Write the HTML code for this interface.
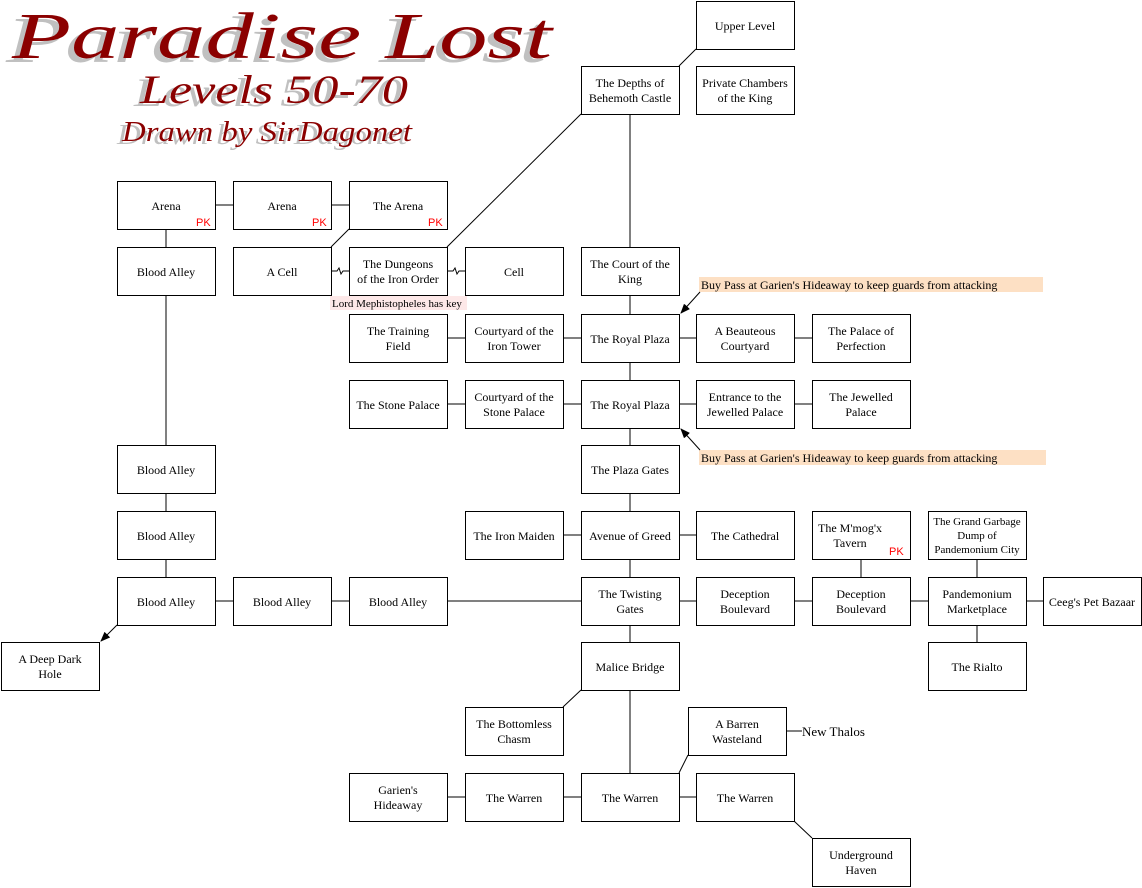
<!DOCTYPE html>
<html><head><meta charset="utf-8"><style>
html,body{margin:0;padding:0;background:#fff;}
svg{display:block;}
text{font-family:"Liberation Serif",serif;font-size:12px;fill:#000;}
.t{font-style:italic;fill:#8b0000;}
.s{font-style:italic;fill:#c0c0c0;}
.pk{fill:#ff0000;font-size:11px;font-family:"Liberation Sans",sans-serif;}
</style></head><body>
<svg width="1142" height="888" viewBox="0 0 1142 888" xmlns="http://www.w3.org/2000/svg">
<defs><marker id="ah" markerWidth="10" markerHeight="8" refX="9" refY="4" orient="auto"><path d="M0,0 L10,4 L0,8 z" fill="#000"/></marker></defs>
<!-- title -->
<text class="s" x="6" y="62" style="font-size:66px" textLength="540" lengthAdjust="spacingAndGlyphs">Paradise Lost</text>
<text class="t" x="12" y="58" style="font-size:66px" textLength="540" lengthAdjust="spacingAndGlyphs">Paradise Lost</text>
<text class="s" x="134" y="106" style="font-size:40px" textLength="268" lengthAdjust="spacingAndGlyphs">Levels 50-70</text>
<text class="t" x="140" y="103" style="font-size:40px" textLength="268" lengthAdjust="spacingAndGlyphs">Levels 50-70</text>
<text class="s" x="117" y="144" style="font-size:28px" textLength="290" lengthAdjust="spacingAndGlyphs">Drawn by SirDagonet</text>
<text class="t" x="122" y="141" style="font-size:28px" textLength="290" lengthAdjust="spacingAndGlyphs">Drawn by SirDagonet</text>
<!-- annotation backgrounds -->
<rect x="699" y="277" width="344" height="15" fill="#fde0c4"/>
<rect x="699" y="450" width="347" height="15" fill="#fde0c4"/>
<rect x="330" y="296" width="137" height="14" fill="#fde8e8"/>
<text x="701" y="289">Buy Pass at Garien's Hideaway to keep guards from attacking</text>
<text x="701" y="462">Buy Pass at Garien's Hideaway to keep guards from attacking</text>
<text x="332" y="307" style="font-size:11px">Lord Mephistopheles has key</text>
<text x="802" y="736" style="font-size:13px">New Thalos</text>
<!-- lines -->
<g stroke="#000" stroke-width="1" fill="none">
<line x1="696" y1="49" x2="679" y2="66"/>
<line x1="630" y1="114" x2="630" y2="247"/>
<line x1="581" y1="114" x2="447" y2="247"/>
<line x1="215" y1="205" x2="233" y2="205"/>
<line x1="331" y1="205" x2="349" y2="205"/>
<line x1="349" y1="229" x2="331" y2="247"/>
<line x1="166" y1="229" x2="166" y2="247"/>
<line x1="166" y1="295" x2="166" y2="445"/>
<line x1="166" y1="493" x2="166" y2="511"/>
<line x1="166" y1="559" x2="166" y2="577"/>
<path d="M331,271 H337 L339,268 L341,274 L343,271 H349"/>
<path d="M447,271 H453 L455,268 L457,274 L459,271 H465"/>
<line x1="630" y1="295" x2="630" y2="314"/>
<line x1="447" y1="338" x2="465" y2="338"/><line x1="563" y1="338" x2="581" y2="338"/><line x1="679" y1="338" x2="696" y2="338"/><line x1="794" y1="338" x2="812" y2="338"/>
<line x1="630" y1="362" x2="630" y2="380"/>
<line x1="447" y1="404" x2="465" y2="404"/><line x1="563" y1="404" x2="581" y2="404"/><line x1="679" y1="404" x2="696" y2="404"/><line x1="794" y1="404" x2="812" y2="404"/>
<line x1="630" y1="428" x2="630" y2="445"/>
<line x1="630" y1="493" x2="630" y2="511"/>
<line x1="630" y1="559" x2="630" y2="577"/>
<line x1="563" y1="535" x2="581" y2="535"/><line x1="679" y1="535" x2="696" y2="535"/>
<line x1="861" y1="559" x2="861" y2="577"/>
<line x1="977" y1="559" x2="977" y2="577"/>
<line x1="215" y1="601" x2="233" y2="601"/><line x1="331" y1="601" x2="349" y2="601"/><line x1="447" y1="601" x2="581" y2="601"/><line x1="679" y1="601" x2="696" y2="601"/><line x1="794" y1="601" x2="812" y2="601"/><line x1="910" y1="601" x2="928" y2="601"/><line x1="1026" y1="601" x2="1043" y2="601"/>
<line x1="977" y1="625" x2="977" y2="642"/>
<line x1="630" y1="625" x2="630" y2="642"/>
<line x1="630" y1="690" x2="630" y2="773"/>
<line x1="581" y1="690" x2="563" y2="707"/>
<line x1="688" y1="755" x2="679" y2="773"/>
<line x1="786" y1="731" x2="802" y2="731"/>
<line x1="447" y1="797" x2="465" y2="797"/><line x1="563" y1="797" x2="581" y2="797"/><line x1="679" y1="797" x2="696" y2="797"/>
<line x1="794" y1="821" x2="812" y2="838"/>
<line x1="117" y1="625" x2="101" y2="641" marker-end="url(#ah)"/>
<line x1="700" y1="292" x2="681" y2="313" marker-end="url(#ah)"/>
<line x1="700" y1="450" x2="681" y2="429" marker-end="url(#ah)"/>
</g>
<!-- boxes -->
<g fill="#fff" stroke="#000">
<rect x="696.5" y="1.5" width="98" height="48"/>
<rect x="581.5" y="66.5" width="98" height="48"/>
<rect x="696.5" y="66.5" width="98" height="48"/>
<rect x="117.5" y="181.5" width="98" height="48"/><rect x="233.5" y="181.5" width="98" height="48"/><rect x="349.5" y="181.5" width="98" height="48"/>
<rect x="117.5" y="247.5" width="98" height="48"/><rect x="233.5" y="247.5" width="98" height="48"/><rect x="349.5" y="247.5" width="98" height="48"/><rect x="465.5" y="247.5" width="98" height="48"/><rect x="581.5" y="247.5" width="98" height="48"/>
<rect x="349.5" y="314.5" width="98" height="48"/><rect x="465.5" y="314.5" width="98" height="48"/><rect x="581.5" y="314.5" width="98" height="48"/><rect x="696.5" y="314.5" width="98" height="48"/><rect x="812.5" y="314.5" width="98" height="48"/>
<rect x="349.5" y="380.5" width="98" height="48"/><rect x="465.5" y="380.5" width="98" height="48"/><rect x="581.5" y="380.5" width="98" height="48"/><rect x="696.5" y="380.5" width="98" height="48"/><rect x="812.5" y="380.5" width="98" height="48"/>
<rect x="117.5" y="445.5" width="98" height="48"/><rect x="581.5" y="445.5" width="98" height="48"/>
<rect x="117.5" y="511.5" width="98" height="48"/><rect x="465.5" y="511.5" width="98" height="48"/><rect x="581.5" y="511.5" width="98" height="48"/><rect x="696.5" y="511.5" width="98" height="48"/><rect x="812.5" y="511.5" width="98" height="48"/><rect x="928.5" y="511.5" width="98" height="48"/>
<rect x="117.5" y="577.5" width="98" height="48"/><rect x="233.5" y="577.5" width="98" height="48"/><rect x="349.5" y="577.5" width="98" height="48"/><rect x="581.5" y="577.5" width="98" height="48"/><rect x="696.5" y="577.5" width="98" height="48"/><rect x="812.5" y="577.5" width="98" height="48"/><rect x="928.5" y="577.5" width="98" height="48"/><rect x="1043.5" y="577.5" width="98" height="48"/>
<rect x="1.5" y="642.5" width="98" height="48"/><rect x="581.5" y="642.5" width="98" height="48"/><rect x="928.5" y="642.5" width="98" height="48"/>
<rect x="465.5" y="707.5" width="98" height="48"/><rect x="688.5" y="707.5" width="98" height="48"/>
<rect x="349.5" y="773.5" width="98" height="48"/><rect x="465.5" y="773.5" width="98" height="48"/><rect x="581.5" y="773.5" width="98" height="48"/><rect x="696.5" y="773.5" width="98" height="48"/>
<rect x="812.5" y="838.5" width="98" height="48"/>
</g>
<g text-anchor="middle">
<text x="745" y="30">Upper Level</text>
<text x="630" y="87">The Depths of</text><text x="630" y="102">Behemoth Castle</text>
<text x="745" y="87">Private Chambers</text><text x="745" y="102">of the King</text>
<text x="166" y="210">Arena</text><text x="282" y="210">Arena</text><text x="398" y="210">The Arena</text>
<text x="166" y="276">Blood Alley</text><text x="282" y="276">A Cell</text>
<text x="398" y="268">The Dungeons</text><text x="398" y="283">of the Iron Order</text>
<text x="514" y="276">Cell</text>
<text x="630" y="268">The Court of the</text><text x="630" y="283">King</text>
<text x="398" y="335">The Training</text><text x="398" y="350">Field</text>
<text x="514" y="335">Courtyard of the</text><text x="514" y="350">Iron Tower</text>
<text x="630" y="343">The Royal Plaza</text>
<text x="745" y="335">A Beauteous</text><text x="745" y="350">Courtyard</text>
<text x="861" y="335">The Palace of</text><text x="861" y="350">Perfection</text>
<text x="398" y="409">The Stone Palace</text>
<text x="514" y="401">Courtyard of the</text><text x="514" y="416">Stone Palace</text>
<text x="630" y="409">The Royal Plaza</text>
<text x="745" y="401">Entrance to the</text><text x="745" y="416">Jewelled Palace</text>
<text x="861" y="401">The Jewelled</text><text x="861" y="416">Palace</text>
<text x="166" y="474">Blood Alley</text><text x="630" y="474">The Plaza Gates</text>
<text x="166" y="540">Blood Alley</text><text x="514" y="540">The Iron Maiden</text><text x="630" y="540">Avenue of Greed</text><text x="745" y="540">The Cathedral</text>
<text x="850" y="532">The M'mog'x</text><text x="850" y="547">Tavern</text>
<text x="977" y="525" style="font-size:11px">The Grand Garbage</text><text x="977" y="539" style="font-size:11px">Dump of</text><text x="977" y="553" style="font-size:11px">Pandemonium City</text>
<text x="166" y="606">Blood Alley</text><text x="282" y="606">Blood Alley</text><text x="398" y="606">Blood Alley</text>
<text x="630" y="598">The Twisting</text><text x="630" y="613">Gates</text>
<text x="745" y="598">Deception</text><text x="745" y="613">Boulevard</text>
<text x="861" y="598">Deception</text><text x="861" y="613">Boulevard</text>
<text x="977" y="598">Pandemonium</text><text x="977" y="613">Marketplace</text>
<text x="1092" y="606">Ceeg's Pet Bazaar</text>
<text x="50" y="663">A Deep Dark</text><text x="50" y="678">Hole</text>
<text x="630" y="671">Malice Bridge</text><text x="977" y="671">The Rialto</text>
<text x="514" y="728">The Bottomless</text><text x="514" y="743">Chasm</text>
<text x="737" y="728">A Barren</text><text x="737" y="743">Wasteland</text>
<text x="398" y="794">Garien's</text><text x="398" y="809">Hideaway</text>
<text x="514" y="802">The Warren</text><text x="630" y="802">The Warren</text><text x="745" y="802">The Warren</text>
<text x="861" y="859">Underground</text><text x="861" y="874">Haven</text>
</g>
<text class="pk" x="196" y="226">PK</text><text class="pk" x="312" y="226">PK</text><text class="pk" x="428" y="226">PK</text><text class="pk" x="889" y="555">PK</text>
</svg>
</body></html>
